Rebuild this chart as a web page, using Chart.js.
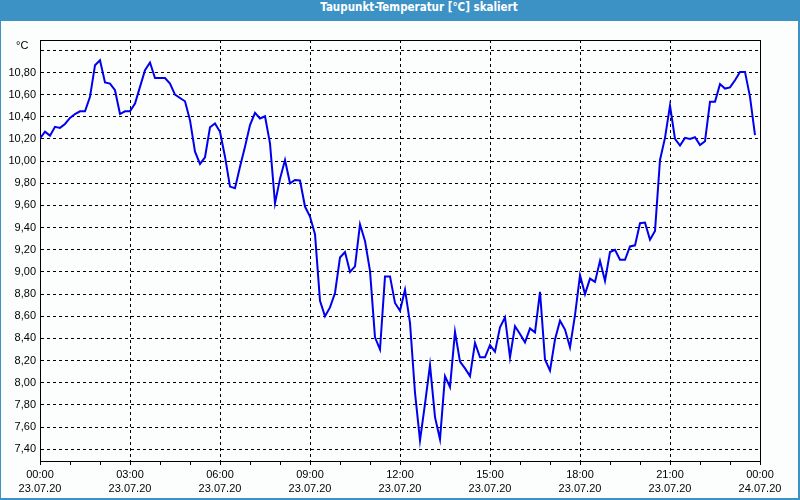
<!DOCTYPE html>
<html>
<head>
<meta charset="utf-8">
<script src="https://cdn.jsdelivr.net/npm/chart.js@4.4.1/dist/chart.umd.min.js"></script>
<style>
  html, body { margin: 0; padding: 0; background: #3c92c5; }
  #frame { position: relative; width: 800px; height: 500px; background: #3c92c5; overflow: hidden; }
  #inner { position: absolute; left: 1px; top: 21px; width: 797px; height: 477px; background: #fcfefd; }
  #title { position: absolute; left: 0; top: 0; width: 800px; height: 21px; line-height: 20px;
           text-align: center; color: #fff; font: bold 11.5px "DejaVu Sans Condensed", "DejaVu Sans", sans-serif; padding-left: 38px; box-sizing: border-box; }
  #c { position: absolute; left: 0; top: 0; }
</style>
</head>
<body>
<div id="frame">
  <div id="inner"></div>
  <div id="title">Taupunkt-Temperatur [°C] skaliert</div>
  <canvas id="c" width="800" height="500"></canvas>
</div>
<script>
// ---- data (10-minute readings, 23.07.20 00:00 .. 23:50) ----
const stepMinutes = 10;
const dewPoint = [
  10.205, 10.265, 10.23, 10.31, 10.30, 10.335, 10.39, 10.425, 10.45, 10.45,
  10.58, 10.865, 10.91, 10.71, 10.70, 10.64, 10.425, 10.45, 10.45, 10.52,
  10.67, 10.82, 10.89, 10.75, 10.75, 10.75, 10.70, 10.60, 10.57, 10.54,
  10.37, 10.085, 9.975, 10.035, 10.305, 10.34, 10.265, 10.04, 9.77, 9.755,
  9.95, 10.13, 10.325, 10.435, 10.385, 10.405, 10.16, 9.62, 9.84, 10.01,
  9.80, 9.83, 9.825, 9.59, 9.50, 9.34, 8.74, 8.60, 8.68, 8.81,
  9.13, 9.18, 9.00, 9.05, 9.43, 9.28, 9.01, 8.41, 8.30, 8.96,
  8.96, 8.72, 8.65, 8.84, 8.54, 7.91, 7.48, 7.81, 8.16, 7.69,
  7.49, 8.06, 7.96, 8.46, 8.19, 8.13, 8.06, 8.36, 8.23, 8.23,
  8.34, 8.28, 8.50, 8.59, 8.23, 8.51, 8.44, 8.365, 8.49, 8.455,
  8.82, 8.21, 8.11, 8.39, 8.56, 8.48, 8.32, 8.61, 8.97, 8.80,
  8.94, 8.91, 9.10, 8.92, 9.18, 9.20, 9.11, 9.11, 9.23, 9.24,
  9.44, 9.445, 9.29, 9.37, 10.01, 10.21, 10.50, 10.20, 10.14, 10.21,
  10.20, 10.215, 10.145, 10.18, 10.535, 10.535, 10.695, 10.655, 10.665, 10.73,
  10.805, 10.805, 10.58, 10.235
];
const xTickTimes = ['00:00','03:00','06:00','09:00','12:00','15:00','18:00','21:00','00:00'];
const xTickDates = ['23.07.20','23.07.20','23.07.20','23.07.20','23.07.20','23.07.20','23.07.20','23.07.20','24.07.20'];
const yTickValues = [7.4, 7.6, 7.8, 8.0, 8.2, 8.4, 8.6, 8.8, 9.0, 9.2, 9.4, 9.6, 9.8, 10.0, 10.2, 10.4, 10.6, 10.8, 11.0];
const yUnit = '°C';

const points = dewPoint.map((v, i) => ({ x: i * stepMinutes / 60, y: v }));
const FONT = { family: 'Liberation Sans, Arial, sans-serif', size: 11 };
const XFONT = { family: 'Liberation Sans, Arial, sans-serif', size: 11, lineHeight: 1.36 };

const framePlugin = {
  id: 'framePlugin',
  afterDraw(chart) {
    const { ctx, chartArea: a } = chart;
    ctx.save();
    ctx.strokeStyle = '#000';
    ctx.lineWidth = 1;
    ctx.beginPath();
    ctx.moveTo(a.left, Math.round(a.top) + 0.5);
    ctx.lineTo(Math.round(a.right) + 0.5, Math.round(a.top) + 0.5);
    ctx.lineTo(Math.round(a.right) + 0.5, a.bottom);
    ctx.stroke();
    ctx.fillStyle = '#000';
    ctx.font = FONT.size + 'px ' + FONT.family;
    ctx.textBaseline = 'middle';
    ctx.textAlign = 'left';
    ctx.fillText(yUnit, 16, 46);
    ctx.restore();
  }
};

new Chart(document.getElementById('c'), {
  type: 'line',
  data: { datasets: [{ data: points, borderColor: '#0000ee', borderWidth: 2, pointRadius: 0, tension: 0, fill: false }] },
  options: {
    responsive: false, animation: false,
    layout: { padding: { left: 0, right: 40, top: 40, bottom: 0 } },
    plugins: { legend: { display: false }, tooltip: { enabled: false } },
    scales: {
      x: {
        type: 'linear', min: 0, max: 24,
        afterFit(s) { s.height = 39; },
        afterBuildTicks(s) { s.ticks = Array.from({ length: 25 }, (_, h) => ({ value: h })); },
        ticks: {
          autoSkip: false, maxRotation: 0, color: '#000', font: XFONT, padding: 2,
          callback(v) { if (v % 3 !== 0) return ''; const k = v / 3; return [xTickTimes[k], xTickDates[k]]; }
        },
        grid: {
          color(c) { return c.tick && c.tick.value % 3 === 0 ? '#000' : 'rgba(0,0,0,0)'; },
          tickColor: '#000', tickLength: 4, lineWidth: 1, drawTicks: true
        },
        border: { display: true, color: '#000', width: 1, dash: [3, 3] }
      },
      y: {
        type: 'linear', min: 7.294, max: 11.093,
        afterFit(s) { s.width = 40; },
        afterBuildTicks(s) { s.ticks = yTickValues.map(v => ({ value: v })); },
        ticks: {
          color: '#000', font: FONT, padding: 4,
          callback(v) { return Math.abs(v - 11) < 1e-6 ? '' : v.toFixed(2).replace('.', ','); }
        },
        grid: { color: '#000', lineWidth: 1, drawTicks: false },
        border: { display: true, color: '#000', width: 1, dash: [3, 3] }
      }
    }
  },
  plugins: [framePlugin]
});
</script>
</body>
</html>
